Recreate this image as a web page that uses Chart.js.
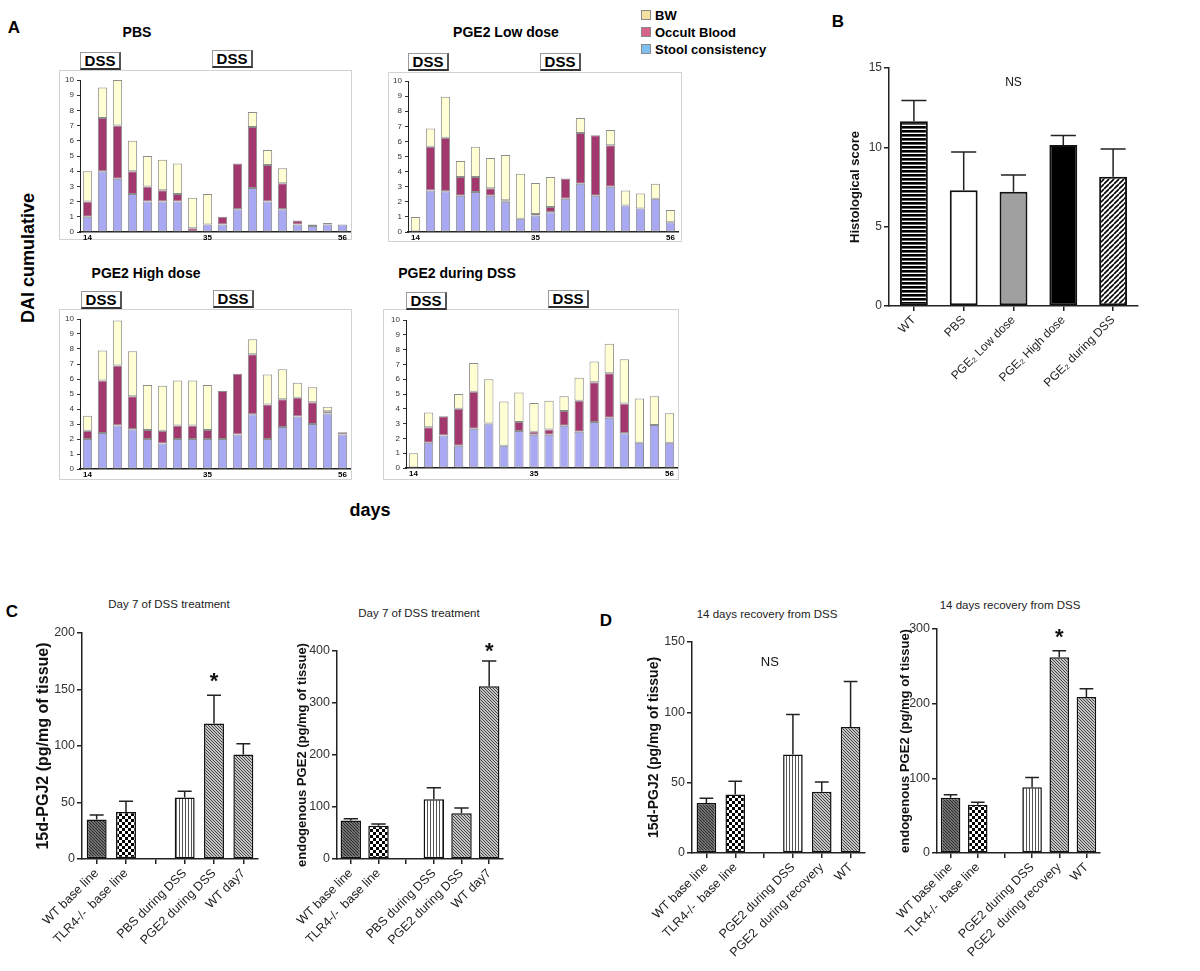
<!DOCTYPE html>
<html><head><meta charset="utf-8">
<script src="https://cdn.jsdelivr.net/npm/chart.js@4.4.1/dist/chart.umd.min.js"></script>
<style>
html,body{margin:0;padding:0;background:#fff;}
#root{position:relative;width:1200px;height:971px;overflow:hidden;font-family:"Liberation Sans",Arial,sans-serif;color:#000;}
#root canvas{position:absolute;}
.t{position:absolute;transform:translate(-50%,-50%);white-space:nowrap;}
.box{position:absolute;border:1px solid #d2d2d2;box-sizing:border-box;}
.dss{position:absolute;box-sizing:border-box;border:1px solid #9a9a9a;border-right:2px solid #555;border-bottom:2px solid #333;font-weight:bold;font-size:15px;line-height:15px;text-align:center;background:#fff;}
.lg{position:absolute;font-weight:bold;font-size:13px;line-height:13px;white-space:nowrap;}
.sw{position:absolute;width:8px;height:8px;border:1px solid #8a8a8a;}
</style></head><body><div id="root">
<div class="t" style="left:14px;top:28px;font-weight:bold;font-size:17px">A</div>
<div class="t" style="left:838px;top:22px;font-weight:bold;font-size:17px">B</div>
<div class="t" style="left:12px;top:612px;font-weight:bold;font-size:17px">C</div>
<div class="t" style="left:606px;top:621px;font-weight:bold;font-size:17px">D</div>

<div class="t" style="left:137px;top:32px;font-weight:bold;font-size:14px">PBS</div>
<div class="t" style="left:506px;top:32px;font-weight:bold;font-size:14px">PGE2 Low dose</div>
<div class="t" style="left:146px;top:273px;font-weight:bold;font-size:14px">PGE2 High dose</div>
<div class="t" style="left:457px;top:273px;font-weight:bold;font-size:14px">PGE2 during DSS</div>

<div class="t" style="left:28px;top:258px;font-weight:bold;font-size:18px;transform:translate(-50%,-50%) rotate(-90deg)">DAI cumulative</div>
<div class="t" style="left:370px;top:510px;font-weight:bold;font-size:18px">days</div>

<div class="sw" style="left:641px;top:10px;background:#f3e0a2"></div><div class="lg" style="left:655px;top:9px">BW</div>
<div class="sw" style="left:641px;top:27px;background:#d6628a"></div><div class="lg" style="left:655px;top:26px">Occult Blood</div>
<div class="sw" style="left:641px;top:44px;background:#7fc0f0"></div><div class="lg" style="left:655px;top:43px">Stool consistency</div>

<div class="box" style="left:59px;top:70px;width:293px;height:170px"></div>
<div class="box" style="left:388px;top:72px;width:294px;height:170px"></div>
<div class="box" style="left:59px;top:309px;width:293px;height:171px"></div>
<div class="box" style="left:383px;top:309px;width:296px;height:171px"></div>

<div class="dss" style="left:80px;top:52px;width:41px;height:18px">DSS</div>
<div class="dss" style="left:212px;top:50px;width:41px;height:18px">DSS</div>
<div class="dss" style="left:408px;top:53px;width:41px;height:18px">DSS</div>
<div class="dss" style="left:540px;top:53px;width:41px;height:18px">DSS</div>
<div class="dss" style="left:81px;top:291px;width:41px;height:18px">DSS</div>
<div class="dss" style="left:213px;top:290px;width:41px;height:18px">DSS</div>
<div class="dss" style="left:406px;top:292px;width:41px;height:18px">DSS</div>
<div class="dss" style="left:548px;top:290px;width:41px;height:18px">DSS</div>

<div class="t" style="left:169px;top:604px;font-size:11.5px;color:#222">Day 7 of DSS treatment</div>
<div class="t" style="left:419px;top:613px;font-size:11.5px;color:#222">Day 7 of DSS treatment</div>
<div class="t" style="left:767px;top:614px;font-size:11.5px;color:#222">14 days recovery from DSS</div>
<div class="t" style="left:1010px;top:605px;font-size:11.5px;color:#222">14 days recovery from DSS</div>
</div>
<script>
// ---------- DATA ----------
const dayLabels = ['14','','','','','','','','35','','','','','','','','','56'];

const pbsStool  = [1,4,3.5,2.5,2,2,2,0,0.5,0.5,1.5,2.9,2,1.5,0.5,0.4,0.5,0.5];
const pbsBlood  = [1,3.5,3.5,1.5,1,0.75,0.5,0.25,0,0.5,3,4,2.4,1.7,0.25,0.1,0.1,0];
const pbsBW     = [2,2,3,2,2,2,2,2,2,0,0,1,1,1,0,0,0,0];

const lowStool  = [0,2.75,2.7,2.4,2.65,2.4,2.0,0.88,1.1,1.3,2.2,3.2,2.4,3.0,1.75,1.55,2.2,0.65];
const lowBlood  = [0,2.9,3.55,1.25,1.0,0.5,0.1,0,0.1,0.35,1.35,3.35,4.0,2.75,0,0,0,0];
const lowBW     = [1,1.2,2.7,1.05,2.0,2.0,3.0,2.98,2.05,2.0,0,1.0,0,1.0,1.0,1.0,1.0,0.8];

const highStool = [2.0,2.4,2.9,2.65,2.0,1.7,2.0,2.0,2.0,2.0,2.3,3.65,2.0,2.8,3.5,3.0,3.7,2.3];
const highBlood = [0.55,3.5,4.0,2.2,0.6,0.85,0.9,0.9,0.6,3.2,4.05,4.0,2.3,1.85,1.25,1.45,0.15,0.15];
const highBW    = [1.0,2.0,3.0,3.0,3.0,3.0,3.0,3.0,3.0,0,0,1.0,2.0,2.0,1.0,1.0,0.3,0];

const durStool  = [0,1.7,2.2,1.5,2.65,3.0,1.5,2.5,2.25,2.25,2.85,2.45,3.1,3.4,2.35,1.7,2.9,1.7];
const durBlood  = [0,1.05,1.3,2.5,2.5,0,0,0.6,0.2,0.35,1.0,2.1,2.7,3.0,2.0,0,0,0];
const durBW     = [1.0,1.0,0,1.0,1.95,3.0,3.0,2.0,1.95,1.95,1.0,1.55,1.4,2.0,3.0,3.0,1.95,2.0];

const histCats  = ['WT','PBS','PGE\u2082 Low dose','PGE\u2082 High dose','PGE\u2082 during DSS'];
const histMean  = [11.65,7.3,7.2,10.15,8.15];
const histErr   = [1.3,2.4,1.05,0.6,1.75];

const cCats     = ['WT base line','TLR4-/-  base line','','PBS during DSS','PGE2 during DSS','WT day7'];
const cPgj2     = [35,41.5,null,54.5,120,92.5];
const cPgj2Err  = [4,9.5,null,5.5,25,9.5];
const cPge2     = [74,64,null,115,88,332];
const cPge2Err  = [3.5,3.5,null,22,10,49];

const dCats     = ['WT base line','TLR4-/-  base line','','PGE2 during DSS','PGE2  during recovery','WT'];
const dPgj2     = [35.5,41.5,null,70,43.5,89.5];
const dPgj2Err  = [3.5,9.5,null,28.5,7,32.5];
const dPge2     = [74,64.5,null,88,262,209];
const dPge2Err  = [4,3.5,null,13,9,11];

// ---------- STYLE ----------
const FF = '"Liberation Sans", Arial, sans-serif';
Chart.defaults.font.family = FF;
const COL = {stool:'#a9a9f3', blood:'#a3386f', bw:'#ffffd3', border:'#8c8c8c'};

function mkPat(size, fn){
  const c=document.createElement('canvas'); c.width=size; c.height=size;
  const g=c.getContext('2d'); fn(g,size); return g.createPattern(c,'repeat');
}
function diag(g,s,dir,color,lw){
  g.strokeStyle=color; g.lineWidth=lw; g.beginPath();
  for(const x0 of [-s,0,s]){
    if(dir==='\\'){ g.moveTo(x0,0); g.lineTo(x0+s,s); }
    else { g.moveTo(x0,s); g.lineTo(x0+s,0); }
  }
  g.stroke();
}
const P = {
  hstripe: mkPat(4,(g,s)=>{g.fillStyle='#fff';g.fillRect(0,0,s,s);g.fillStyle='#000';g.fillRect(0,0,s,2.6);}),
  white: '#ffffff',
  gray: '#a0a0a0',
  black: '#000000',
  diagB: mkPat(5,(g,s)=>{g.fillStyle='#fff';g.fillRect(0,0,s,s);diag(g,s,'/','#000',1.6);}),
  dark: mkPat(3,(g,s)=>{g.fillStyle='#8a8a8a';g.fillRect(0,0,s,s);diag(g,s,'\\','#2a2a2a',1.2);}),
  checker: mkPat(6,(g,s)=>{g.fillStyle='#fff';g.fillRect(0,0,s,s);g.fillStyle='#000';g.fillRect(0,0,3,3);g.fillRect(3,3,3,3);}),
  vstripe: mkPat(3,(g,s)=>{g.fillStyle='#fff';g.fillRect(0,0,s,s);g.fillStyle='#555';g.fillRect(0,0,1,s);}),
  diag: mkPat(3,(g,s)=>{g.fillStyle='#c4c4c4';g.fillRect(0,0,s,s);diag(g,s,'\\','#444',1);})
};

// ---------- HELPERS ----------
const ANN = {};
Chart.register({
  id:'ann',
  afterDatasetsDraw(chart){
    const a = ANN[chart.canvas.id]; if(!a) return;
    const ctx=chart.ctx, xs=chart.scales.x, ys=chart.scales.y;
    ctx.save();
    if(a.err){
      const meta=chart.getDatasetMeta(0), vals=chart.data.datasets[0].data;
      ctx.strokeStyle='#222'; ctx.lineWidth=1.5;
      meta.data.forEach((bar,i)=>{
        const v=vals[i], e=a.err[i]; if(v==null||e==null) return;
        const yb=ys.getPixelForValue(v), yt=ys.getPixelForValue(v+e), hw=bar.width*a.cap/2;
        ctx.beginPath(); ctx.moveTo(bar.x,yb); ctx.lineTo(bar.x,yt);
        ctx.moveTo(bar.x-hw,yt); ctx.lineTo(bar.x+hw,yt); ctx.stroke();
      });
    }
    (a.marks||[]).forEach(m=>{
      ctx.font=m.font; ctx.fillStyle='#111'; ctx.textAlign='center'; ctx.textBaseline='middle';
      ctx.fillText(m.text, xs.getPixelForValue(m.x), ys.getPixelForValue(m.y)+(m.dy||0));
    });
    ctx.restore();
  }
});

function mkCanvas(id, area, m){
  const c=document.createElement('canvas'); c.id=id;
  const w=area.r-area.l+m.l+m.r, h=area.b-area.t+m.t+m.b;
  c.width=w; c.height=h;
  c.style.left=(area.l-m.l)+'px'; c.style.top=(area.t-m.t)+'px';
  c.style.width=w+'px'; c.style.height=h+'px';
  document.getElementById('root').appendChild(c);
  return c;
}
const nz = a => a.map(v => v===0 ? null : v);

function daiChart(id, area, stool, blood, bw){
  const m={l:20,t:10,r:3,b:10};
  const cv=mkCanvas(id,area,m);
  const ds=(label,data,color)=>({label,data:nz(data),backgroundColor:color,borderColor:COL.border,borderWidth:1,borderSkipped:false});
  new Chart(cv,{
    type:'bar',
    data:{labels:dayLabels,datasets:[ds('Stool consistency',stool,COL.stool),ds('Occult Blood',blood,COL.blood),ds('BW',bw,COL.bw)]},
    options:{
      responsive:false, animation:false, devicePixelRatio:1,
      layout:{padding:{left:0,top:m.t,right:m.r,bottom:0}},
      plugins:{legend:{display:false},tooltip:{enabled:false}},
      datasets:{bar:{barPercentage:1,categoryPercentage:0.62}},
      scales:{
        x:{stacked:true,grid:{display:false,drawTicks:false},border:{color:'#222',width:1.5},
           ticks:{autoSkip:false,maxRotation:0,minRotation:0,padding:1,color:'#000',font:{size:8,weight:'bold'}},
           afterFit:s=>{s.height=m.b;}},
        y:{stacked:true,min:0,max:10,
           grid:{display:true,drawOnChartArea:false,drawTicks:true,tickLength:3,color:'#333'},
           border:{color:'#222',width:1},
           ticks:{stepSize:1,padding:3,color:'#333',font:{size:8}},
           afterFit:s=>{s.width=m.l;}}
      }
    }
  });
}

function errChart(o){
  const cv=mkCanvas(o.id,o.area,o.m);
  ANN[o.id]={err:o.err,cap:o.cap,marks:o.marks};
  new Chart(cv,{
    type:'bar',
    data:{labels:o.labels,datasets:[{data:o.data,backgroundColor:o.fills,borderColor:'#111',borderWidth:o.bw,borderSkipped:false}]},
    options:{
      responsive:false, animation:false, devicePixelRatio:1,
      layout:{padding:{left:0,top:o.m.t,right:o.m.r,bottom:0}},
      plugins:{legend:{display:false},tooltip:{enabled:false}},
      datasets:{bar:{barPercentage:1,categoryPercentage:o.cp}},
      scales:{
        x:{grid:{display:true,drawOnChartArea:false,offset:false,tickLength:5,color:'#222',lineWidth:1.5},
           border:{color:'#222',width:1.5},
           ticks:{autoSkip:false,minRotation:45,maxRotation:45,padding:2,color:'#222',font:{size:o.xf}},
           afterFit:s=>{s.height=o.m.b;}},
        y:{min:0,max:o.max,
           grid:{display:true,drawOnChartArea:false,tickLength:5,color:'#222',lineWidth:1.5},
           border:{color:'#222',width:1.5},
           ticks:{stepSize:o.step,padding:2,color:'#333',font:{size:o.yf}},
           title:{display:true,text:o.title,color:'#111',font:{size:o.tf,weight:'bold'},padding:{top:o.tp,bottom:0}},
           afterFit:s=>{s.width=o.m.l;}}
      }
    }
  });
}

// ---------- PANEL A ----------
daiChart('pbs', {l:80,t:80,r:350,b:232}, pbsStool, pbsBlood, pbsBW);
daiChart('low', {l:408,t:81,r:678,b:232}, lowStool, lowBlood, lowBW);
daiChart('high',{l:80,t:319,r:350,b:469}, highStool, highBlood, highBW);
daiChart('dur', {l:406,t:320,r:677,b:468}, durStool, durBlood, durBW);

// ---------- PANEL B ----------
errChart({id:'hist',area:{l:889,t:68,r:1138,b:306},m:{l:70,t:14,r:12,b:95},
  labels:histCats,data:histMean,err:histErr,cap:0.9,
  fills:[P.hstripe,P.white,P.gray,P.black,P.diagB],bw:2,cp:0.56,
  max:15,step:5,xf:12,yf:12,title:'Histological score',tf:13,tp:855-819-7.8,
  marks:[{x:2,y:14.1,text:'NS',font:'12px '+FF}]});

// ---------- PANEL C ----------
errChart({id:'c1',area:{l:82,t:633,r:258,b:859},m:{l:80,t:15,r:6,b:108},
  labels:cCats,data:cPgj2,err:cPgj2Err,cap:0.7,
  fills:[P.dark,P.checker,P.white,P.vstripe,P.diag,P.diag],bw:1.5,cp:0.68,
  max:200,step:50,xf:12.5,yf:12.5,title:'15d-PGJ2 (pg/mg of tissue)',tf:16,tp:43.5-2-9.6,
  marks:[{x:4,y:161,text:'*',font:'bold 22px '+FF,dy:5}]});
errChart({id:'c2',area:{l:337,t:651,r:503,b:859},m:{l:75,t:20,r:6,b:108},
  labels:cCats,data:cPge2,err:cPge2Err,cap:0.7,
  fills:[P.dark,P.checker,P.white,P.vstripe,P.diag,P.diag],bw:1.5,cp:0.74,
  max:400,step:100,xf:12.5,yf:12.5,title:'endogenous PGE2 (pg/mg of tissue)',tf:13,tp:302.5-262-7.8,
  marks:[{x:5,y:407,text:'*',font:'bold 22px '+FF,dy:5}]});

// ---------- PANEL D ----------
errChart({id:'d1',area:{l:692,t:642,r:865,b:853},m:{l:80,t:15,r:6,b:115},
  labels:dCats,data:dPgj2,err:dPgj2Err,cap:0.7,
  fills:[P.dark,P.checker,P.white,P.vstripe,P.diag,P.diag],bw:1.5,cp:0.68,
  max:150,step:50,xf:12.5,yf:12.5,title:'15d-PGJ2 (pg/mg of tissue)',tf:14,tp:654-612-8.4,
  marks:[{x:2.2,y:135.5,text:'NS',font:'13px '+FF}]});
errChart({id:'d2',area:{l:937,t:629,r:1100,b:853},m:{l:70,t:20,r:8,b:115},
  labels:dCats,data:dPge2,err:dPge2Err,cap:0.7,
  fills:[P.dark,P.checker,P.white,P.vstripe,P.diag,P.diag],bw:1.5,cp:0.72,
  max:300,step:100,xf:12.5,yf:12.5,title:'endogenous PGE2 (pg/mg of tissue)',tf:13,tp:905-867-7.8,
  marks:[{x:4,y:295,text:'*',font:'bold 22px '+FF,dy:5}]});
</script>
</body></html>
